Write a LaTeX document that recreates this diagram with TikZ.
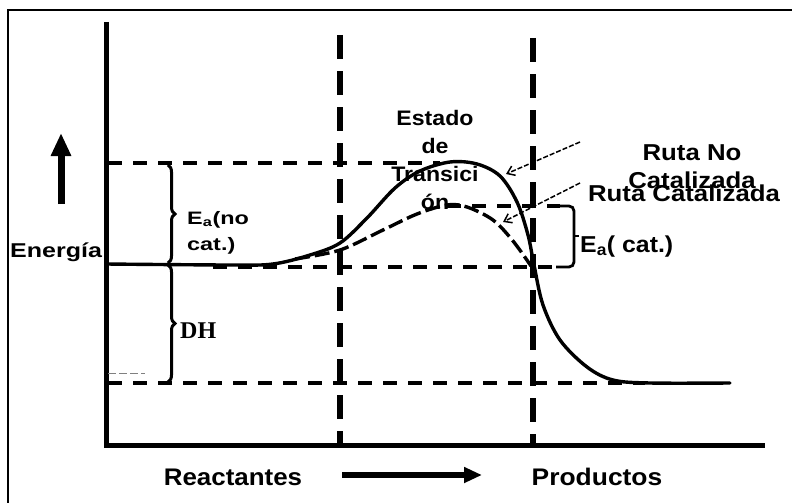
\documentclass[tikz,border=0pt]{standalone}
\usepackage{fontspec}
\usepackage{graphicx}
\setmainfont{Liberation Sans}
\newfontfamily\serifbold{Liberation Serif}
\usetikzlibrary{arrows.meta,decorations.pathreplacing}
\newcommand{\hsc}[2]{\scalebox{#1}[1]{#2}}
\begin{document}
\begin{tikzpicture}[x=1pt,y=-1pt,
  lbl/.style={inner sep=0pt, font=\bfseries},
  vdash/.style={line width=5.5pt, dash pattern=on 24pt off 12pt},
  hdash/.style={line width=4pt, dash pattern=on 14pt off 11pt},
  curvesolid/.style={line width=3.4pt, line join=round, line cap=round},
  curvecat/.style={line width=3.4pt, dash pattern=on 15pt off 5pt},
  bracestyle/.style={line width=3pt, decorate, decoration={brace, amplitude=7pt}},
  pointer/.style={line width=1.5pt, dash pattern=on 5pt off 2pt, -{Straight Barb[length=7pt,width=10pt]}},
  axis/.style={line width=5pt},
  bigarrow/.style={line width=7pt, -{Triangle[length=23pt,width=19pt]}}
]
\fill[white] (0,0) rectangle (792,503);
\useasboundingbox (0,0) rectangle (792,503);

% frame
\coordinate (fbl) at (8,503);
\coordinate (ftl) at (8,10);
\coordinate (ftr) at (792,10);
\draw[line width=2pt] (fbl) -- (ftl) -- (ftr);

% axes
\coordinate (yt) at (106,22);
\coordinate (yb) at (106,447);
\coordinate (xl) at (104,445);
\coordinate (xr) at (765,445);
\draw[axis] (yt) -- (yb);
\draw[axis] (xl) -- (xr);

% vertical dashed lines
\coordinate (v1t) at (340,35);
\coordinate (v1b) at (340,443);
\coordinate (v2t) at (533,38);
\coordinate (v2b) at (533,443);
\draw[vdash] (v1t) -- (v1b);
\draw[vdash] (v2t) -- (v2b);

% horizontal dashed lines
\coordinate (h1l) at (108,163);
\coordinate (h1r) at (440,163);
\draw[hdash] (h1l) -- (h1r);
\coordinate (h2l) at (447,206);
\coordinate (h2r) at (560,206);
\draw[hdash] (h2l) -- (h2r);
\coordinate (h3l) at (213,267);
\coordinate (h3r) at (560,267);
\draw[hdash] (h3l) -- (h3r);
\coordinate (h4l) at (108,383);
\coordinate (h4r) at (645,383);
\draw[hdash] (h4l) -- (h4r);

% Ea(cat.) bracket
\coordinate (bk1) at (556,206);
\coordinate (bk2) at (574,206);
\coordinate (bk3) at (574,267);
\coordinate (bk4) at (556,267);
\draw[line width=2.8pt, rounded corners=5pt] (bk1) -- (bk2) -- (bk3) -- (bk4);
\coordinate (bkm1) at (574,236);
\coordinate (bkm2) at (579,236);
\draw[line width=2pt] (bkm1) -- (bkm2);

% thin artifact line
\coordinate (art1) at (108,373);
\coordinate (art2) at (145,373);
\draw[line width=0.6pt, gray, dash pattern=on 8pt off 3pt] (art1) -- (art2);

% uncatalysed path
\draw[curvesolid] plot[smooth, tension=0.55] coordinates {
  (106,264) (230,265) (273,264) (310,255) (340,243) (367,218) (395,188)
  (420,171) (450,162) (477,164) (500,176) (517,202) (528,235) (534,265)
  (543,305) (560,340) (587,367) (613,380) (650,383) (730,383)};

% catalysed path
\draw[curvecat] plot[smooth, tension=0.55] coordinates {
  (295,259) (340,250) (383,230) (417,214) (447,205) (467,207) (493,220)
  (513,241) (531,266)};

% braces
\coordinate (b1t) at (168,165);
\coordinate (b1b) at (168,263);
\coordinate (b2t) at (168,265);
\coordinate (b2b) at (168,382);
\draw[bracestyle] (b1t) -- (b1b);
\draw[bracestyle] (b2t) -- (b2b);

% pointers
\coordinate (p1s) at (580,142);
\coordinate (p1e) at (506,174);
\coordinate (p2s) at (580,183);
\coordinate (p2e) at (503,222);
\draw[pointer] (p1s) -- (p1e);
\draw[pointer] (p2s) -- (p2e);

% energy arrow
\coordinate (ea1) at (61,204);
\coordinate (ea2) at (61,133);
\draw[bigarrow] (ea1) -- (ea2);

% progress arrow
\coordinate (ra1) at (342,475);
\coordinate (ra2) at (482,475);
\draw[line width=6pt, -{Triangle[length=18pt,width=15pt]}] (ra1) -- (ra2);

% labels
\node[lbl, anchor=base west] (energia) at (10,257)
  {\fontsize{20}{24}\selectfont\hsc{1.25}{Energía}};
\node[lbl, anchor=base] (estado) at (435,125)
  {\fontsize{21}{28}\selectfont\hsc{1.1}{\begin{tabular}[t]{@{}c@{}}Estado\\de\\Transici\\ón\end{tabular}}};
\node[lbl, anchor=base] (rutano) at (692,160)
  {\fontsize{23}{28}\selectfont\hsc{1.12}{\begin{tabular}[t]{@{}c@{}}Ruta No\\Catalizada\end{tabular}}};
\node[lbl, anchor=base] (rutacat) at (684,201)
  {\fontsize{23}{28}\selectfont\hsc{1.12}{Ruta Catalizada}};
\node[lbl, anchor=base west] (eanocat) at (187,224)
  {\fontsize{18}{26}\selectfont\hsc{1.3}{\begin{tabular}[t]{@{}l@{}}E\textsubscript{a}(no\\cat.)\end{tabular}}};
\node[lbl, anchor=base west] (dh) at (180,338)
  {\serifbold\bfseries\fontsize{24}{28}\selectfont DH};
\node[lbl, anchor=base west] (eacat) at (580,252)
  {\fontsize{23}{28}\selectfont\hsc{1.08}{E\textsubscript{a}( cat.)}};
\node[lbl, anchor=base] (reactantes) at (233,485)
  {\fontsize{24}{28}\selectfont\hsc{1.08}{Reactantes}};
\node[lbl, anchor=base] (productos) at (597,485)
  {\fontsize{24}{28}\selectfont\hsc{1.1}{Productos}};
\end{tikzpicture}
\end{document}
